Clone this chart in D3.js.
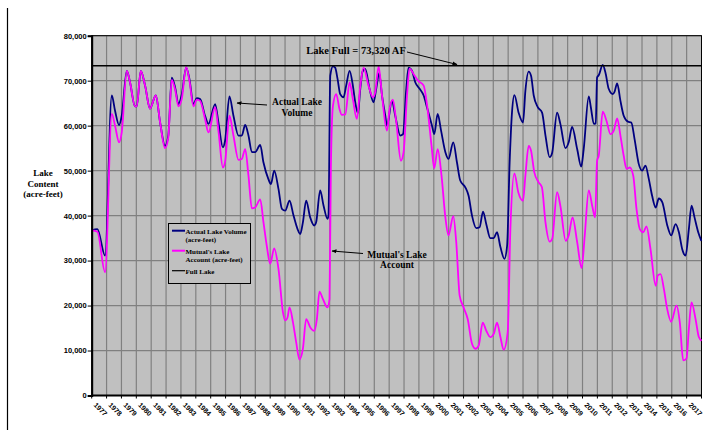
<!DOCTYPE html>
<html><head><meta charset="utf-8">
<script src="https://cdn.jsdelivr.net/npm/d3@7"></script>
<style>body{margin:0;background:#fff}svg{display:block}</style>
</head><body>
<svg id="c" width="722" height="438"></svg>
<script>
const yearLabels = ["1977","1978","1979","1980","1981","1982","1983","1984","1985","1986","1987","1988","1989","1990","1991","1992","1993","1994","1995","1996","1997","1998","1999","2000","2001","2002","2003","2004","2005","2006","2007","2008","2009","2010","2011","2012","2013","2014","2015","2016","2017"];
const yTicks = [0,10000,20000,30000,40000,50000,60000,70000,80000];
const fullLake = 73320;
// [decimal year, acre-feet]
const actualLake = [[1977.00,36700],[1977.38,37000],[1977.90,31100],[1978.35,66700],[1978.57,63300],[1978.84,60150],[1979.02,62200],[1979.36,72200],[1979.58,69600],[1979.91,64300],[1980.03,64300],[1980.30,72200],[1980.59,68900],[1980.92,63800],[1981.31,66700],[1981.60,60700],[1981.93,55500],[1982.15,57800],[1982.38,70700],[1982.61,68500],[1982.83,64800],[1983.06,67000],[1983.35,72900],[1983.57,70400],[1983.84,64800],[1984.07,66100],[1984.29,65900],[1984.62,62200],[1984.85,60400],[1985.30,64800],[1985.52,60700],[1985.82,55200],[1985.97,56700],[1986.26,66500],[1986.53,62200],[1986.87,57800],[1987.09,57800],[1987.32,60150],[1987.54,57800],[1987.77,54100],[1987.99,54100],[1988.33,55700],[1988.55,51800],[1988.88,48100],[1989.05,47000],[1989.27,50000],[1989.56,45900],[1989.79,41500],[1990.01,41100],[1990.30,43300],[1990.57,40000],[1990.84,37000],[1991.02,35900],[1991.20,38500],[1991.42,43300],[1991.69,39600],[1991.96,37800],[1992.09,38500],[1992.36,45600],[1992.59,42200],[1992.85,39300],[1992.92,40000],[1993.04,71100],[1993.22,73200],[1993.37,72900],[1993.53,70400],[1993.71,67000],[1993.93,66300],[1994.11,68900],[1994.34,72200],[1994.56,68900],[1994.72,65200],[1994.90,62800],[1995.06,68200],[1995.21,72000],[1995.39,72600],[1995.68,68200],[1995.95,65200],[1996.13,68200],[1996.33,71700],[1996.52,66700],[1996.74,62200],[1996.85,60000],[1997.19,65500],[1997.41,62200],[1997.75,57800],[1997.93,58100],[1998.15,68200],[1998.30,72900],[1998.53,72200],[1998.76,69600],[1999.05,68200],[1999.32,66700],[1999.54,64100],[1999.88,60000],[2000.03,58100],[2000.26,62600],[2000.49,58900],[2000.78,54100],[2000.99,52600],[2001.31,56300],[2001.56,51800],[2001.78,47800],[2002.12,46300],[2002.34,44400],[2002.57,40000],[2002.86,37200],[2003.08,37400],[2003.31,40900],[2003.53,38100],[2003.80,35000],[2004.03,35000],[2004.25,36300],[2004.48,33000],[2004.75,30400],[2004.93,33300],[2005.10,51800],[2005.26,63000],[2005.42,66800],[2005.71,62800],[2006.00,60700],[2006.16,67800],[2006.38,72000],[2006.54,71100],[2006.72,66700],[2006.99,64100],[2007.28,62900],[2007.51,57800],[2007.79,53000],[2007.96,54000],[2008.29,62900],[2008.51,60400],[2008.85,55000],[2009.07,56300],[2009.30,59700],[2009.64,54800],[2009.91,50900],[2010.08,54800],[2010.42,66500],[2010.56,64100],[2010.76,60400],[2010.89,60500],[2010.98,70700],[2011.09,71200],[2011.36,73500],[2011.54,71800],[2011.76,68200],[2012.04,67000],[2012.15,67500],[2012.33,69400],[2012.55,65500],[2012.77,62200],[2013.05,60900],[2013.28,60700],[2013.50,57000],[2013.78,51500],[2014.01,50000],[2014.23,51100],[2014.46,48100],[2014.68,44400],[2014.92,41800],[2015.13,43800],[2015.36,43000],[2015.70,37800],[2015.96,35600],[2016.26,38100],[2016.48,36300],[2016.70,32600],[2016.93,31100],[2017.15,37000],[2017.33,42200],[2017.53,39600],[2017.78,36300],[2017.99,34400]];
const mutualAccount = [[1977.00,36700],[1977.38,36400],[1977.90,27400],[1978.35,62600],[1978.57,60000],[1978.84,56300],[1979.02,58500],[1979.36,72200],[1979.58,69600],[1979.91,64300],[1980.03,64300],[1980.30,72200],[1980.59,68900],[1980.92,63800],[1981.31,66700],[1981.60,60700],[1981.93,55000],[1982.15,57400],[1982.38,70200],[1982.61,68000],[1982.83,64300],[1983.06,66000],[1983.35,73000],[1983.57,70000],[1983.84,64300],[1984.07,65800],[1984.29,65500],[1984.62,61500],[1984.85,58500],[1985.30,64100],[1985.52,58900],[1985.82,50700],[1985.97,52000],[1986.26,62200],[1986.53,57800],[1986.87,52400],[1987.09,52600],[1987.32,54800],[1987.54,48900],[1987.77,41600],[1987.99,41800],[1988.33,43600],[1988.55,38500],[1988.77,33300],[1989.00,29300],[1989.27,32700],[1989.56,28100],[1989.86,18500],[1990.01,16700],[1990.17,17400],[1990.30,19600],[1990.53,16300],[1990.75,11800],[1990.97,8000],[1991.20,10400],[1991.42,17000],[1991.69,15200],[1991.96,14400],[1992.14,17000],[1992.31,23100],[1992.54,21500],[1992.85,19600],[1992.99,21500],[1993.08,50400],[1993.22,64400],[1993.44,67000],[1993.66,63700],[1993.82,62400],[1994.05,62500],[1994.34,69600],[1994.56,65900],[1994.83,61500],[1995.06,68900],[1995.28,72900],[1995.61,68900],[1995.91,66300],[1996.06,67400],[1996.29,73200],[1996.52,66700],[1996.85,58900],[1997.03,63700],[1997.25,65800],[1997.48,60700],[1997.79,52200],[1997.97,54100],[1998.20,66700],[1998.37,72700],[1998.64,71500],[1998.94,70000],[1999.32,68900],[1999.54,64800],[1999.85,55500],[2000.03,50500],[2000.26,54800],[2000.52,48900],[2000.78,39600],[2000.99,35600],[2001.31,39900],[2001.51,34100],[2001.74,22200],[2002.00,19600],[2002.28,17000],[2002.57,11500],[2002.80,10400],[2003.02,11100],[2003.29,16200],[2003.53,14400],[2003.80,13000],[2004.03,13700],[2004.25,16200],[2004.48,13000],[2004.70,10200],[2004.97,14100],[2005.15,37000],[2005.42,49400],[2005.68,45200],[2006.00,43300],[2006.16,48900],[2006.38,55500],[2006.54,54400],[2006.76,49600],[2007.05,47400],[2007.27,46300],[2007.51,38500],[2007.79,34200],[2007.96,34800],[2008.29,45200],[2008.51,42200],[2008.87,34400],[2009.07,35600],[2009.33,39600],[2009.64,34100],[2009.94,28300],[2010.15,35600],[2010.42,45600],[2010.65,42200],[2010.85,39600],[2010.98,52200],[2011.09,53300],[2011.36,63100],[2011.61,61100],[2011.88,58100],[2012.10,58900],[2012.33,61600],[2012.55,57800],[2012.77,53300],[2012.96,50400],[2013.18,50700],[2013.41,48900],[2013.63,41500],[2013.85,37000],[2014.08,36300],[2014.30,37600],[2014.57,32600],[2014.92,24400],[2015.06,26700],[2015.25,27000],[2015.47,23700],[2015.69,19300],[2015.96,16400],[2016.32,20000],[2016.54,16300],[2016.77,7800],[2016.99,8200],[2017.15,14800],[2017.33,20700],[2017.60,17000],[2017.82,13000],[2018.00,12200]];

const svg = d3.select("#c");
const L = 91.7, R = 701.5, T = 35.7, B = 395.5;
const x = d3.scaleLinear().domain([1977, 2018]).range([L, R]);
const y = d3.scaleLinear().domain([0, 80000]).range([B, T]);
const sans = "'Liberation Sans', Arial, sans-serif";
const serif = "'Liberation Serif', 'Times New Roman', serif";

// outer frame line on the left
svg.append("line").attr("x1",7.5).attr("x2",7.5).attr("y1",8).attr("y2",430).attr("stroke","#000").attr("stroke-width",1.2);

// plot background
svg.append("rect").attr("x",L).attr("y",T).attr("width",R-L).attr("height",B-T).attr("fill","#c0c0c0");

// gridlines
const g = svg.append("g");
g.selectAll("line.h").data(yTicks.slice(1)).join("line")
  .attr("x1",L).attr("x2",R).attr("y1",d=>y(d)).attr("y2",d=>y(d))
  .attr("stroke","#808080").attr("stroke-width",1.2);
g.selectAll("line.v").data(yearLabels.slice(1).map((d,i)=>1978+i)).join("line")
  .attr("x1",d=>x(d)).attr("x2",d=>x(d)).attr("y1",T).attr("y2",B)
  .attr("stroke","#808080").attr("stroke-width",1.2);

// plot border
svg.append("rect").attr("x",L).attr("y",T).attr("width",R-L).attr("height",B-T)
  .attr("fill","none").attr("stroke","#000").attr("stroke-width",1);

// lines
const line = d3.line().x(d=>x(d[0])).y(d=>y(d[1])).curve(d3.curveMonotoneX);
svg.append("path").datum(actualLake).attr("d",line).attr("fill","none")
  .attr("stroke","#000080").attr("stroke-width",1.8);
svg.append("path").datum(mutualAccount).attr("d",line).attr("fill","none")
  .attr("stroke","#ff00ff").attr("stroke-width",1.8);
svg.append("line").attr("x1",L).attr("x2",R).attr("y1",y(fullLake)).attr("y2",y(fullLake))
  .attr("stroke","#000").attr("stroke-width",1.5);

// axes
const yAxis = d3.axisLeft(y).tickValues(yTicks).tickSize(4).tickFormat(d3.format(","));
const ya = svg.append("g").attr("transform",`translate(${L},0)`).call(yAxis);
ya.select(".domain").attr("stroke","#000").attr("stroke-width",2);
ya.selectAll(".tick line").attr("stroke","#000");
ya.selectAll(".tick text").attr("font-family",sans).attr("font-weight","bold").attr("font-size","7.5px").attr("x",-5).attr("fill","#000");

const xa = svg.append("g");
xa.append("line").attr("x1",L).attr("x2",R).attr("y1",B).attr("y2",B).attr("stroke","#000").attr("stroke-width",2);
xa.selectAll("line.t").data(yearLabels.map((d,i)=>1977+i).concat([2018])).join("line")
  .attr("x1",d=>x(d)).attr("x2",d=>x(d)).attr("y1",B).attr("y2",B+3).attr("stroke","#000");
xa.selectAll("text").data(yearLabels).join("text")
  .attr("transform",(d,i)=>`translate(${x(1977+i)+1.5},${B+10}) rotate(45)`)
  .attr("font-family",sans).attr("font-weight","bold").attr("font-size","7px")
  .text(d=>d);

// y axis title
const yt = svg.append("text").attr("font-family",serif).attr("font-weight","bold").attr("font-size","9px").attr("text-anchor","middle");
["Lake","Content","(acre-feet)"].forEach((s,i)=>yt.append("tspan").attr("x",43).attr("y",176+i*10.7).text(s));

// arrow marker
svg.append("defs").append("marker").attr("id","ah").attr("viewBox","0 0 10 10").attr("refX",9).attr("refY",5)
  .attr("markerWidth",5).attr("markerHeight",5).attr("orient","auto")
  .append("path").attr("d","M0,1 L10,5 L0,9 Z").attr("fill","#000");

// annotations
svg.append("text").attr("x",356).attr("y",54).attr("text-anchor","middle").attr("font-family",serif)
  .attr("font-weight","bold").attr("font-size","10.5px").text("Lake Full = 73,320 AF");
svg.append("line").attr("x1",407).attr("y1",52).attr("x2",457).attr("y2",64.5).attr("stroke","#000").attr("stroke-width",1).attr("marker-end","url(#ah)");

const a1 = svg.append("text").attr("text-anchor","middle").attr("font-family",serif).attr("font-weight","bold").attr("font-size","9.5px");
a1.append("tspan").attr("x",297).attr("y",105).text("Actual Lake");
a1.append("tspan").attr("x",297).attr("y",115.5).text("Volume");
svg.append("line").attr("x1",267).attr("y1",105).attr("x2",237).attr("y2",103).attr("stroke","#000").attr("stroke-width",1).attr("marker-end","url(#ah)");

const a2 = svg.append("text").attr("text-anchor","middle").attr("font-family",serif).attr("font-weight","bold").attr("font-size","9.5px");
a2.append("tspan").attr("x",397).attr("y",257.5).text("Mutual's Lake");
a2.append("tspan").attr("x",397).attr("y",268).text("Account");
svg.append("line").attr("x1",363).attr("y1",253.5).attr("x2",332).attr("y2",251).attr("stroke","#000").attr("stroke-width",1).attr("marker-end","url(#ah)");

// legend
const lg = svg.append("g");
lg.append("rect").attr("x",168.5).attr("y",223.5).attr("width",82).attr("height",60).attr("fill","#c0c0c0").attr("stroke","#000").attr("stroke-width",1);
const items = [
  {c:"#000080", w:2, y:230.7, t:["Actual Lake Volume","(acre-feet)"]},
  {c:"#ff00ff", w:2, y:250.7, t:["Mutual's Lake","Account (acre-feet)"]},
  {c:"#000", w:1.2, y:270.7, t:["Full Lake"]}
];
items.forEach(it=>{
  lg.append("line").attr("x1",172).attr("x2",185).attr("y1",it.y).attr("y2",it.y).attr("stroke",it.c).attr("stroke-width",it.w);
  const tx = lg.append("text").attr("font-family",serif).attr("font-weight","bold").attr("font-size","7px");
  it.t.forEach((s,i)=>tx.append("tspan").attr("x",185.5).attr("y",it.y+3+i*8.5).text(s));
});
</script>
</body></html>
